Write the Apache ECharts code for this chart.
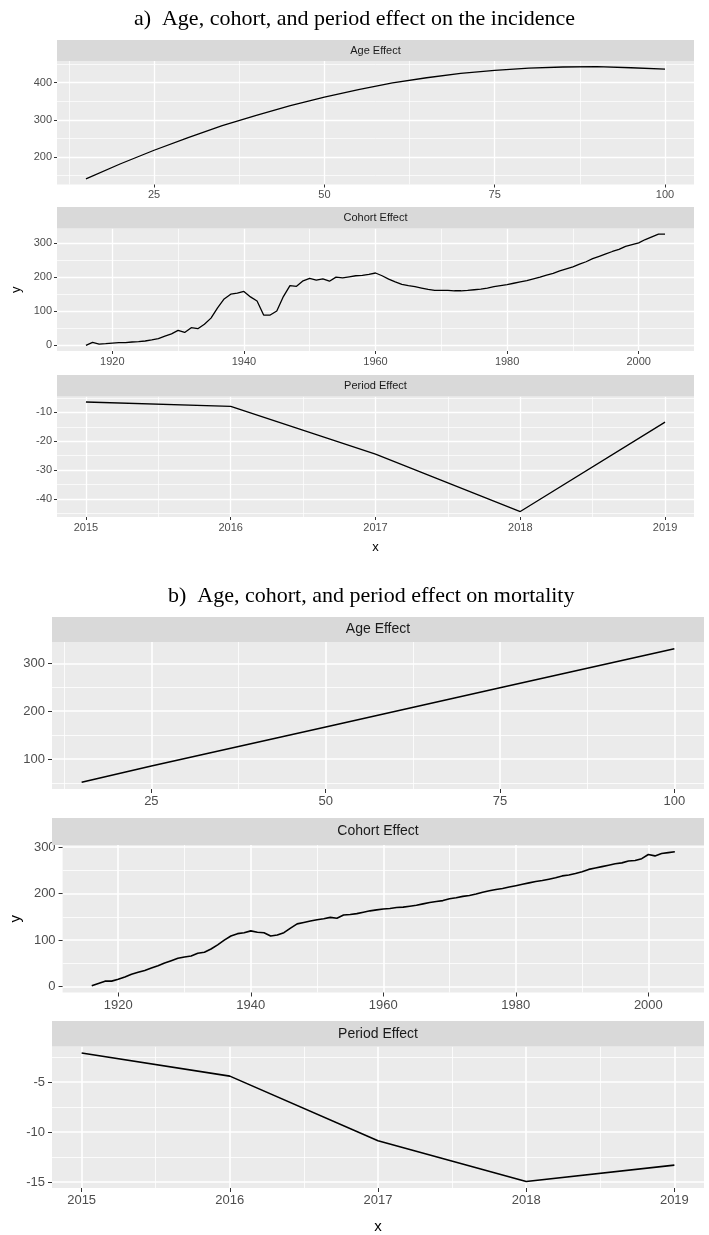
<!DOCTYPE html>
<html><head><meta charset="utf-8">
<script src="https://cdn.jsdelivr.net/npm/echarts@6/dist/echarts.min.js"></script>
<style>html,body{margin:0;padding:0;background:#fff}#c{width:709px;height:1235px}</style>
</head><body><div id="c"></div>
<script>
// ---------------- DATA ----------------
const titles = ['a)  Age, cohort, and period effect on the incidence', 'b)  Age, cohort, and period effect on mortality'];
const stripLabels = ['Age Effect', 'Cohort Effect', 'Period Effect'];

const incAgeX = [15,20,25,30,35,40,45,50,55,60,65,70,75,80,85,90,95,100];
const incAge  = [141,181,218,252,284,312,338,361,381,399,413,425,433,439,442,443,440,436];

const mortAgeX = [15,25,50,75,100];
const mortAge  = [51,85,167,249,331];

const cohortYears = [1916,1917,1918,1919,1920,1921,1922,1923,1924,1925,1926,1927,1928,1929,
  1930,1931,1932,1933,1934,1935,1936,1937,1938,1939,1940,1941,1942,1943,1944,1945,1946,1947,1948,1949,
  1950,1951,1952,1953,1954,1955,1956,1957,1958,1959,1960,1961,1962,1963,1964,1965,1966,1967,1968,1969,
  1970,1971,1972,1973,1974,1975,1976,1977,1978,1979,1980,1981,1982,1983,1984,1985,1986,1987,1988,1989,
  1990,1991,1992,1993,1994,1995,1996,1997,1998,1999,2000,2001,2002,2003,2004];
const incCohort = [0,9,4,5,7,8,8,10,11,13,16,20,27,34,
  44,38,52,49,62,80,110,136,150,153,158,142,130,89,89,101,143,175,173,189,
  196,191,195,188,200,198,201,204,205,208,212,204,194,186,179,175,172,168,164,161,
  161,161,160,160,161,163,165,168,172,175,178,182,186,190,195,200,206,211,218,224,
  230,238,245,254,261,268,275,281,290,295,300,310,318,326,326];
const mortCohort = [2,7,12,12,16,21,27,31,35,40,45,51,56,61,
  64,66,72,74,81,90,100,109,114,116,120,117,116,109,111,116,126,135,138,141,
  144,146,149,147,154,155,157,160,163,165,167,168,170,171,173,175,178,181,183,185,
  189,191,194,196,199,203,206,209,211,214,217,220,223,226,228,231,234,238,240,243,
  247,252,255,258,261,264,266,270,271,275,284,281,286,288,290];

const periodYears = [2015,2016,2017,2018,2019];
const incPeriod  = [-6.4,-7.95,-24.5,-44.4,-13.4];
const mortPeriod = [-2.08,-4.4,-10.86,-14.94,-13.3];

const ageTicks = [25,50,75,100];
const cohortTicks = [1920,1940,1960,1980,2000];
const periodTicks = [2015,2016,2017,2018,2019];
const incAgeYTicks = [200,300,400];
const incCohortYTicks = [0,100,200,300];
const incPeriodYTicks = [-40,-30,-20,-10];
const mortAgeYTicks = [100,200,300];
const mortCohortYTicks = [0,100,200,300];
const mortPeriodYTicks = [-15,-10,-5];

// ---------------- LAYOUT ----------------
const panels = [
  {x: incAgeX, y: incAge, xt: ageTicks, yt: incAgeYTicks, grid: [57,61,637,123.5], strip: [57,40,637,21], big: false},
  {x: cohortYears, y: incCohort, xt: cohortTicks, yt: incCohortYTicks, grid: [57,228.5,637,122.5], strip: [57,207,637,21.5], big: false, yname: true},
  {x: periodYears, y: incPeriod, xt: periodTicks, yt: incPeriodYTicks, grid: [57,396.5,637,120.5], strip: [57,375,637,21.5], big: false, xname: true},
  {x: mortAgeX, y: mortAge, xt: ageTicks, yt: mortAgeYTicks, grid: [52,642,652,147], strip: [52,617,652,25], big: true},
  {x: cohortYears, y: mortCohort, xt: cohortTicks, yt: mortCohortYTicks, grid: [52,845,652,147.5], strip: [52,818,652,27], big: true, yname: true},
  {x: periodYears, y: mortPeriod, xt: periodTicks, yt: mortPeriodYTicks, grid: [52,1046.5,652,148.5], strip: [52,1021,652,25.5], big: true, xname: true}
];

function expand(arr) {
  const lo = Math.min.apply(null, arr), hi = Math.max.apply(null, arr);
  const p = (hi - lo) * 0.05;
  return [lo - p, hi + p];
}
function minorOf(ticks, lo, hi) {
  const step = ticks[1] - ticks[0];
  const out = [];
  for (let i = -1; i < ticks.length; i++) {
    const v = ticks[0] + step * (i + 0.5);
    if (v >= lo && v <= hi) out.push(v);
  }
  return out;
}

const grids = [], xAxes = [], yAxes = [], series = [], graphics = [];
const FONT = 'Liberation Sans, Arial, sans-serif';

panels.forEach((p, i) => {
  const [gl, gt, gw, gh] = p.grid;
  grids.push({left: gl, top: gt, width: gw, height: gh, backgroundColor: '#EBEBEB', show: true, borderWidth: 0});
  const xr = expand(p.x), yr = expand(p.y);
  const tickFs = p.big ? 13 : 11;
  const tickLen = p.big ? 4 : 3;
  const majW = p.big ? 1.6 : 1.3, minW = p.big ? 0.8 : 0.7;
  const xMajor = xAxes.length;
  xAxes.push({
    type: 'value', gridIndex: i, min: xr[0], max: xr[1], position: 'bottom',
    axisLine: {show: false, onZero: false},
    axisTick: {show: true, length: tickLen, customValues: p.xt, lineStyle: {color: '#333333', width: 1}},
    axisLabel: {show: true, customValues: p.xt, formatter: v => String(v), color: '#4D4D4D', fontSize: tickFs, fontFamily: FONT, margin: p.big ? 6 : 5},
    splitLine: {show: true, lineStyle: {color: '#FFFFFF', width: majW}},
    name: p.xname ? 'x' : '', nameLocation: 'middle', nameGap: p.big ? 31 : 24,
    nameTextStyle: {color: '#000', fontSize: p.big ? 15 : 13, fontFamily: FONT}
  });
  xAxes.push({
    type: 'value', gridIndex: i, min: xr[0], max: xr[1], position: 'bottom',
    axisLine: {show: false, onZero: false},
    axisTick: {show: false, customValues: minorOf(p.xt, xr[0], xr[1])},
    axisLabel: {show: false},
    splitLine: {show: true, lineStyle: {color: '#FFFFFF', width: minW}}
  });
  const yMajor = yAxes.length;
  yAxes.push({
    type: 'value', gridIndex: i, min: yr[0], max: yr[1], position: 'left',
    axisLine: {show: false, onZero: false},
    axisTick: {show: true, length: tickLen, customValues: p.yt, lineStyle: {color: '#333333', width: 1}},
    axisLabel: {show: true, customValues: p.yt, formatter: v => String(v), color: '#4D4D4D', fontSize: tickFs, fontFamily: FONT, margin: p.big ? 7 : 5},
    splitLine: {show: true, lineStyle: {color: '#FFFFFF', width: majW}},
    name: p.yname ? 'y' : '', nameLocation: 'middle', nameGap: p.big ? 38 : 31, nameRotate: 90,
    nameTextStyle: {color: '#000', fontSize: p.big ? 15 : 13, fontFamily: FONT}
  });
  yAxes.push({
    type: 'value', gridIndex: i, min: yr[0], max: yr[1], position: 'left',
    axisLine: {show: false, onZero: false},
    axisTick: {show: false, customValues: minorOf(p.yt, yr[0], yr[1])},
    axisLabel: {show: false},
    splitLine: {show: true, lineStyle: {color: '#FFFFFF', width: minW}}
  });
  series.push({
    type: 'line', xAxisIndex: xMajor, yAxisIndex: yMajor,
    data: p.x.map((v, k) => [v, p.y[k]]),
    showSymbol: false, symbol: 'none', clip: true,
    lineStyle: {color: '#000000', width: p.big ? 1.6 : 1.3},
    z: 5
  });
  const [sl, st, sw, sh] = p.strip;
  graphics.push({type: 'rect', shape: {x: sl, y: st, width: sw, height: sh}, style: {fill: '#D9D9D9'}, z: 1});
  graphics.push({type: 'text', x: sl + sw / 2, y: st + sh / 2, z: 2,
    style: {text: stripLabels[i % 3], fill: '#1A1A1A', font: (p.big ? 14 : 11) + 'px ' + FONT, textAlign: 'center', textVerticalAlign: 'middle'}});
});

const chart = echarts.init(document.getElementById('c'), null, {renderer: 'canvas'});
chart.setOption({
  animation: false,
  backgroundColor: '#FFFFFF',
  title: [
    {text: titles[0], left: 'center', top: 3, textStyle: {fontFamily: 'Liberation Serif, Times New Roman, serif', fontWeight: 'normal', fontSize: 22, color: '#000'}},
    {text: titles[1], left: 163, top: 580, textStyle: {fontFamily: 'Liberation Serif, Times New Roman, serif', fontWeight: 'normal', fontSize: 22, color: '#000'}}
  ],
  grid: grids, xAxis: xAxes, yAxis: yAxes, series: series,
  graphic: graphics
});
</script></body></html>
